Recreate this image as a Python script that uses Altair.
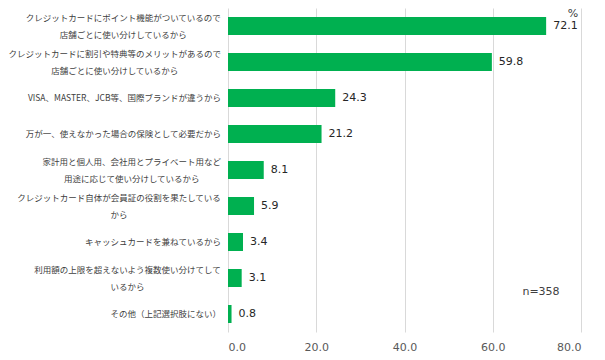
import altair as alt
import pandas as pd

categories = [
    "クレジットカードにポイント機能がついているので\n店舗ごとに使い分けしているから",
    "クレジットカードに割引や特典等のメリットがあるので\n店舗ごとに使い分けしているから",
    "VISA、MASTER、JCB等、国際ブランドが違うから",
    "万が一、使えなかった場合の保険として必要だから",
    "家計用と個人用、会社用とプライベート用など\n用途に応じて使い分けしているから",
    "クレジットカード自体が会員証の役割を果たしている\nから",
    "キャッシュカードを兼ねているから",
    "利用額の上限を超えないよう複数使い分けてして\nいるから",
    "その他（上記選択肢にない）",
]
values = [72.1, 59.8, 24.3, 21.2, 8.1, 5.9, 3.4, 3.1, 0.8]
x_ticks = [0, 20, 40, 60, 80]

df = pd.DataFrame({"reason": categories, "pct": values})

GREEN = "#00B050"
JP_FONT = "Noto Sans CJK JP"
NUM_FONT = "DejaVu Sans"
LAB_FS = 8.5
LAB_PAD = 7
W, H = 353, 324
XMAX = 80

y_enc = alt.Y(
    "reason:N",
    sort=None,
    scale=alt.Scale(paddingInner=0.5, paddingOuter=0.25),
    axis=None,
)
x_enc = alt.X(
    "pct:Q",
    scale=alt.Scale(domain=[0, XMAX], nice=False),
    axis=alt.Axis(
        title=None,
        values=x_ticks,
        format=".1f",
        domain=False,
        ticks=False,
        grid=True,
        gridColor="#d9d9d9",
        labelFont=NUM_FONT,
        labelFontSize=11,
        labelColor="#595959",
        labelPadding=9,
    ),
)

base = alt.Chart(df)
bars = base.mark_bar(color=GREEN).encode(x=x_enc, y=y_enc)
texts = base.mark_text(
    align="left", baseline="middle", dx=7, font=NUM_FONT, fontSize=11, color="#262626"
).encode(x="pct:Q", y=alt.Y("reason:N", sort=None), text=alt.Text("pct:Q", format=".1f"))

S = "split(datum.reason, '\\n')"
lab_base = base.transform_calculate(
    nl=f"length({S})",
    l1=f"{S}[0]",
    l2=f"length({S}) > 1 ? {S}[1] : ''",
).transform_calculate(
    ml="max(length(datum.l1), length(datum.l2))"
).transform_calculate(
    cxd=f"(-{LAB_PAD} - datum.ml * {LAB_FS} / 2) * {XMAX} / {W}"
)

lab_style = dict(font=JP_FONT, fontSize=LAB_FS, color="#404040", baseline="middle")

lab_single = lab_base.transform_filter("datum.nl == 1").mark_text(
    align="right", **lab_style
).encode(x=alt.value(-LAB_PAD), y=alt.Y("reason:N", sort=None), text="l1:N")

lab_multi1 = lab_base.transform_filter("datum.nl > 1").mark_text(
    align="center", dy=-8.5, **lab_style
).encode(x="cxd:Q", y=alt.Y("reason:N", sort=None), text="l1:N")

lab_multi2 = lab_base.transform_filter("datum.nl > 1").mark_text(
    align="center", dy=8.5, **lab_style
).encode(x="cxd:Q", y=alt.Y("reason:N", sort=None), text="l2:N")

pct_label = alt.Chart(pd.DataFrame({"t": ["%"]})).mark_text(
    align="center", baseline="top", font=NUM_FONT, fontSize=11, color="#404040"
).encode(x=alt.value(345), y=alt.value(0), text="t:N")

n_label = alt.Chart(pd.DataFrame({"t": ["n=358"]})).mark_text(
    align="center", baseline="middle", font=NUM_FONT, fontSize=11, color="#404040"
).encode(x=alt.value(313), y=alt.value(284), text="t:N")

chart = (
    alt.layer(bars, texts, lab_single, lab_multi1, lab_multi2, pct_label, n_label)
    .properties(
        width=W,
        height=H,
        autosize=alt.AutoSizeParams(type="none"),
        padding={"left": 220, "top": 0, "right": 16, "bottom": 28},
        background="white",
    )
    .configure_view(stroke=None)
)

chart.save("out.html", embed_options={"renderer": "svg", "actions": False})
